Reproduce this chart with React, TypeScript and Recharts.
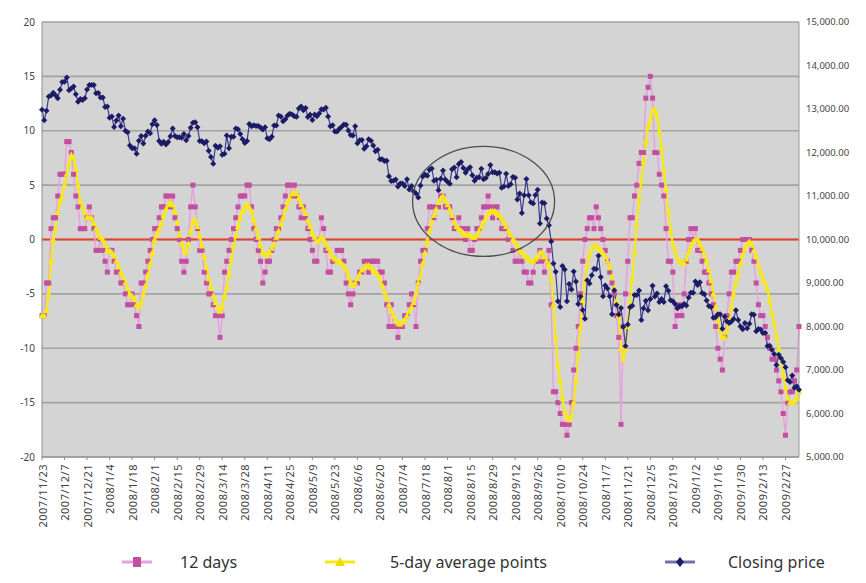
import React from "react";
import { LineChart, Line, XAxis, YAxis, CartesianGrid, ReferenceLine, ReferenceDot } from "recharts";

// weekday rows from 2007/11/23 (holidays keep the previous close)
const firstDay = Date.UTC(2007, 10, 23);
const rowCount = 337;
const dates: string[] = [];
for (let t = firstDay; dates.length < rowCount; t += 86400000) {
  const d = new Date(t);
  const wd = d.getUTCDay();
  if (wd === 0 || wd === 6) continue;
  dates.push(`${d.getUTCFullYear()}/${d.getUTCMonth() + 1}/${d.getUTCDate()}`);
}

const twelveDays: number[] = [
  -7, -7, -4, -4, 1, 2, 2, 4, 6, 6,
  6, 9, 9, 8, 6, 4, 3, 1, 1, 1,
  2, 3, 2, 1, -1, -1, 0, -1, -2, -3,
  -1, -1, -2, -3, -3, -4, -4, -5, -6, -6,
  -5, -6, -7, -8, -4, -4, -3, -2, -1, 0,
  1, 1, 2, 3, 3, 4, 4, 3, 4, 2,
  1, 0, -2, -3, -2, 0, 3, 5, 3, 1,
  -1, -1, -3, -4, -5, -5, -6, -7, -7, -9,
  -7, -3, -2, -1, 0, 1, 2, 3, 4, 4,
  4, 5, 5, 3, 1, 0, -1, -2, -4, -3,
  -2, -2, -1, 0, 1, 1, 2, 3, 4, 5,
  5, 4, 5, 4, 3, 2, 3, 2, 1, 0,
  -1, -2, -2, 0, 2, 1, -1, -3, -3, -2,
  -2, -1, -1, -1, -2, -4, -5, -6, -5, -4,
  -4, -3, -3, -2, -2, -3, -2, -2, -2, -2,
  -3, -3, -4, -6, -8, -6, -8, -8, -9, -8,
  -8, -7, -7, -6, -5, -6, -8, -4, -2, -1,
  -1, 1, 3, 3, 2, 3, 3, 4, 4, 3,
  3, 3, 2, 1, 1, 2, 1, 1, 0, 1,
  -1, -1, 0, 1, 1, 2, 3, 3, 4, 3,
  2, 3, 3, 2, 1, 1, 1, 0, 0, -1,
  -2, -2, -1, -2, -3, -3, -4, -4, -3, -2,
  -2, -1, -2, -3, -2, -1, -6, -14, -14, -15,
  -16, -17, -17, -18, -17, -15, -12, -10, -8, -5,
  -2, 0, 1, 2, 2, 1, 3, 2, 1, 0,
  -1, -2, -3, -4, -5, -7, -9, -17, -8, -5,
  -2, 2, 2, 4, 5, 7, 8, 8, 13, 14,
  15, 13, 8, 8, 6, 5, 4, 1, -2, -2,
  -3, -8, -7, -6, -7, -5, -2, 0, 1, 0,
  1, -1, -1, -2, -3, -3, -4, -5, -6, -8,
  -10, -11, -12, -9, -7, -5, -3, -3, -2, -2,
  -1, 0, 0, 0, 0, -1, -2, -4, -6, -7,
  -7, -8, -9, -10, -11, -11, -12, -13, -14, -16,
  -18, -15, -14, -14, -13, -12, -8,
];

const fiveDayAvg: number[] = [
  -7, -7, -6.5, -5, -2, 0, 1, 2.5, 3.5, 4,
  5, 6, 7, 7.8, 7.5, 6.5, 5, 3.5, 3, 2.5,
  2, 2, 2, 1.5, 1, 0.5, 0.2, 0, -0.5, -1,
  -1, -1.2, -1.5, -2, -2.5, -3, -3.5, -4, -4.5, -5,
  -5.2, -5.5, -6, -6.2, -5.8, -5, -4.2, -3.2, -2.2, -1.2,
  0, 0.5, 1, 1.5, 2.2, 2.8, 3.2, 3.4, 3.2, 2.6,
  1.6, 0.4, -0.4, -1, -1.2, -0.4, 0.8, 1.6, 1.8, 1.2,
  0.4, -0.6, -1.6, -2.6, -3.6, -4.4, -5.2, -5.8, -6.2, -6.6,
  -6.2, -5.2, -4.4, -3.2, -1.8, -0.6, 0.4, 1.2, 2, 2.6,
  3, 3.2, 3, 2.6, 1.8, 1, 0.2, -0.6, -1.2, -1.4,
  -1.4, -1.2, -0.8, -0.4, 0.2, 0.8, 1.4, 2, 2.8, 3.4,
  3.8, 4.2, 4.4, 4.2, 3.8, 3.2, 2.8, 2.4, 1.8, 1.2,
  0.6, 0.2, -0.2, 0, 0.2, 0, -0.4, -0.8, -1.2, -1.6,
  -1.8, -2, -2, -2.2, -2.4, -2.8, -3.4, -4, -4.2, -4,
  -3.6, -3.2, -2.8, -2.6, -2.4, -2.4, -2.6, -2.8, -3, -3.2,
  -3.6, -4.2, -4.8, -5.4, -6, -6.6, -7, -7.4, -7.7, -7.8,
  -7.6, -7.4, -7, -6.6, -6.2, -5.8, -5, -4, -3.4, -2.2,
  -1.2, -0.2, 0.8, 1.6, 2.2, 2.8, 3.4, 3.8, 4, 3.6,
  3.2, 2.8, 2.2, 1.6, 1.2, 1, 0.8, 0.6, 0.4, 0.4,
  0.4, 0.2, 0.2, 0.4, 0.8, 1.2, 1.6, 2, 2.4, 2.6,
  2.6, 2.6, 2.4, 2.2, 2, 1.6, 1.2, 0.8, 0.4, 0,
  -0.2, -0.6, -1, -1.2, -1.4, -1.6, -1.8, -2, -2, -1.8,
  -1.6, -1.2, -1.2, -1.6, -2, -2.4, -3.6, -6, -9, -11.6,
  -13, -14.6, -15.8, -16.4, -16.6, -16.2, -15, -13, -10.6, -8,
  -5.6, -3.8, -2.4, -1.4, -0.8, -0.6, -0.6, -0.8, -1, -1.2,
  -1.6, -2, -2.6, -3.4, -4.4, -5.6, -7, -10, -11, -10,
  -8, -5.8, -3.6, -1.2, 1.4, 3.6, 5.4, 7.2, 9, 10.4,
  11, 11.8, 12, 11.4, 10, 8.4, 6.4, 4.6, 2.6, 0.8,
  -0.4, -1, -1.6, -2, -2.2, -2.2, -1.8, -1.2, -0.6, -0.2,
  0, 0, -0.4, -0.8, -1.4, -2, -2.8, -3.8, -5, -6.2,
  -7.4, -8.4, -9, -9, -8.4, -7.4, -6.2, -5, -4, -3.2,
  -2.2, -1.4, -0.8, -0.4, -0.2, -0.4, -1, -1.6, -2.4, -3,
  -3.6, -4, -4.6, -5.6, -6.8, -7.6, -8.8, -10, -11, -12.4,
  -13.6, -14.6, -15, -15, -14.8, -14.6, -14,
];

const closing: number[] = [
  12980, 12743, 12958, 13289, 13312, 13372, 13315, 13249, 13445, 13620,
  13626, 13727, 13433, 13474, 13518, 13340, 13167, 13232, 13207, 13246,
  13451, 13549, 13549, 13552, 13360, 13366, 13265, 13265, 13044, 13057,
  12800, 12827, 12589, 12735, 12853, 12606, 12778, 12501, 12466, 12159,
  12099, 12099, 11971, 12270, 12379, 12207, 12384, 12480, 12443, 12650,
  12743, 12635, 12265, 12200, 12247, 12182, 12240, 12373, 12552, 12377,
  12348, 12348, 12337, 12427, 12284, 12381, 12570, 12685, 12694, 12582,
  12266, 12259, 12214, 12255, 12040, 11894, 11740, 12157, 12110, 12146,
  11951, 11972, 12393, 12100, 12361, 12361, 12549, 12533, 12423, 12302,
  12216, 12263, 12654, 12606, 12626, 12609, 12612, 12576, 12527, 12582,
  12325, 12302, 12362, 12619, 12620, 12849, 12825, 12720, 12763, 12849,
  12892, 12872, 12831, 12820, 13010, 13058, 12970, 13021, 12814, 12867,
  12746, 12876, 12832, 12898, 12993, 12987, 13028, 12829, 12601, 12626,
  12480, 12480, 12548, 12594, 12646, 12638, 12504, 12403, 12390, 12604,
  12210, 12280, 12290, 12084, 12142, 12307, 12269, 12160, 12029, 12063,
  11843, 11842, 11807, 11812, 11453, 11347, 11350, 11382, 11216, 11289,
  11289, 11232, 11384, 11147, 11229, 11101, 11055, 10963, 11239, 11447,
  11497, 11467, 11603, 11632, 11349, 11371, 11131, 11398, 11584, 11378,
  11326, 11284, 11616, 11656, 11431, 11734, 11782, 11642, 11533, 11616,
  11660, 11479, 11349, 11417, 11430, 11628, 11386, 11413, 11503, 11715,
  11544, 11544, 11517, 11533, 11188, 11221, 11511, 11231, 11269, 11434,
  11422, 10918, 11059, 10610, 11020, 11388, 11016, 10854, 10825, 11022,
  11143, 10365, 10851, 10831, 10483, 10325, 9956, 9447, 9258, 8579,
  8451, 9388, 9311, 8578, 8979, 8852, 9265, 9034, 8519, 8691,
  8379, 8176, 9065, 8991, 9181, 9325, 9320, 9625, 9139, 8696,
  8944, 8871, 8694, 8283, 8835, 8497, 8274, 8425, 7997, 7552,
  8046, 8443, 8479, 8727, 8727, 8829, 8149, 8419, 8592, 8376,
  8635, 8934, 8691, 8761, 8565, 8630, 8565, 8924, 8824, 8605,
  8579, 8520, 8419, 8468, 8468, 8516, 8484, 8668, 8776, 8776,
  9035, 8953, 9015, 8770, 8742, 8599, 8474, 8449, 8200, 8212,
  8281, 8281, 7949, 8228, 8123, 8078, 8116, 8175, 8375, 8149,
  8001, 7937, 8078, 7957, 8063, 8281, 8271, 7889, 7940, 7933,
  7850, 7850, 7553, 7556, 7466, 7366, 7115, 7351, 7271, 7182,
  7063, 6763, 6726, 6876, 6594, 6627, 6547,
];

const leftTicks = [-20, -15, -10, -5, 0, 5, 10, 15, 20];
const rightTicks = [5000, 6000, 7000, 8000, 9000, 10000, 11000, 12000, 13000, 14000, 15000];

// circled area in the original
const circledDate = "2008/8/25";
const circledLevel = 3.5;

const rows = dates.map((date, i) => ({
  date,
  d12: twelveDays[i],
  avg5: fiveDayAvg[i],
  close: closing[i],
}));

const PINK_LINE = "#e6a2dc";
const PINK_DOT = "#c24f9f";
const YELLOW = "#f7e81a";
const NAVY_LINE = "#3c3c8c";
const NAVY_DOT = "#1b1b66";

const squareDot = (p: any) => {
  if (p.cy == null) return <g key={`s${p.index}`} />;
  return <rect key={`s${p.index}`} x={p.cx - 2.5} y={p.cy - 2.5} width={5} height={5} fill={PINK_DOT} />;
};

const triDot = (p: any) => {
  if (p.cy == null) return <g key={`t${p.index}`} />;
  const { cx, cy } = p;
  return <polygon key={`t${p.index}`} points={`${cx},${cy - 3.5} ${cx + 3.2},${cy + 2.5} ${cx - 3.2},${cy + 2.5}`} fill={YELLOW} />;
};

const diamondDot = (p: any) => {
  if (p.cy == null) return <g key={`d${p.index}`} />;
  const { cx, cy } = p;
  return <polygon key={`d${p.index}`} points={`${cx},${cy - 3} ${cx + 3},${cy} ${cx},${cy + 3} ${cx - 3},${cy}`} fill={NAVY_DOT} />;
};

const DateTick = (props: any) => {
  const { x, y, payload } = props;
  return (
    <text
      x={x}
      y={y}
      transform={`rotate(-90, ${x}, ${y})`}
      textAnchor="end"
      dominantBaseline="central"
      fontSize={11}
      letterSpacing={0.5}
      fill="#444"
      fontFamily="Noto Sans, sans-serif"
    >
      {payload.value}
    </text>
  );
};

const fmtPrice = (v: number) =>
  v.toLocaleString("en-US", { minimumFractionDigits: 2, maximumFractionDigits: 2 });

const LegendMark = ({ kind }: { kind: "sq" | "tri" | "dia" }) => {
  const line = kind === "sq" ? PINK_LINE : kind === "tri" ? YELLOW : "#7070b0";
  return (
    <svg width={30} height={14} style={{ display: "block" }}>
      <line x1={0} y1={7} x2={30} y2={7} stroke={line} strokeWidth={3} />
      {kind === "sq" && <rect x={11} y={2} width={8} height={10} fill={PINK_DOT} />}
      {kind === "tri" && <polygon points="15,2 20,11 10,11" fill="#f0dc00" />}
      {kind === "dia" && <polygon points="15,2 19,7 15,12 11,7" fill={NAVY_DOT} />}
    </svg>
  );
};

const legendItems = [
  { label: "12 days", kind: "sq" as const, mark: 114, text: 172 },
  { label: "5-day average points", kind: "tri" as const, mark: 317, text: 382 },
  { label: "Closing price", kind: "dia" as const, mark: 657, text: 720 },
];

export default function App() {
  return (
    <div style={{ position: "relative", width: 850, height: 567, fontFamily: "Noto Sans, sans-serif" }}>
      <LineChart width={850} height={520} data={rows} margin={{ top: 14, right: 4, left: 4, bottom: 1 }}>
        <CartesianGrid
          yAxisId="left"
          vertical={false}
          fill="#d4d4d4"
          stroke="#a3a3a3"
          strokeWidth={1.6}
        />
        <XAxis
          dataKey="date"
          interval={9}
          height={70}
          tick={<DateTick />}
          tickSize={3}
          tickMargin={4}
          stroke="#8c8c8c"
        />
        <YAxis
          yAxisId="left"
          domain={[-20, 20]}
          ticks={leftTicks}
          width={30}
          tickSize={4}
          tickMargin={3}
          tickLine={false}
          stroke="#8c8c8c"
          tick={{ fontSize: 10, fill: "#444" }}
        />
        <YAxis
          yAxisId="right"
          orientation="right"
          domain={[5000, 15000]}
          ticks={rightTicks}
          width={55}
          tickSize={4}
          tickMargin={3}
          tickLine={false}
          stroke="#9a9a9a"
          tickFormatter={fmtPrice}
          tick={{ fontSize: 9.5, fill: "#444" }}
        />
        <ReferenceLine yAxisId="left" y={0} stroke="#e0402c" strokeWidth={2} />
        <Line
          yAxisId="left"
          dataKey="d12"
          stroke={PINK_LINE}
          strokeWidth={1.5}
          dot={squareDot}
          activeDot={false}
          isAnimationActive={false}
        />
        <Line
          yAxisId="left"
          dataKey="avg5"
          stroke={YELLOW}
          strokeWidth={2.2}
          dot={triDot}
          activeDot={false}
          isAnimationActive={false}
        />
        <Line
          yAxisId="right"
          dataKey="close"
          stroke={NAVY_LINE}
          strokeWidth={1.2}
          dot={diamondDot}
          activeDot={false}
          isAnimationActive={false}
        />
        <ReferenceDot
          yAxisId="left"
          x={circledDate}
          y={circledLevel}
          shape={(p: any) => (
            <ellipse cx={p.cx} cy={p.cy} rx={71} ry={55} fill="none" stroke="#4d4d4d" strokeWidth={1.3} />
          )}
        />
      </LineChart>
      {legendItems.map((it) => (
        <React.Fragment key={it.label}>
          <div style={{ position: "absolute", left: it.mark, top: 547 }}>
            <LegendMark kind={it.kind} />
          </div>
          <div
            style={{
              position: "absolute",
              left: it.text,
              top: 542,
              fontSize: 16,
              lineHeight: "24px",
              color: "#333",
              whiteSpace: "nowrap",
            }}
          >
            {it.label}
          </div>
        </React.Fragment>
      ))}
    </div>
  );
}
